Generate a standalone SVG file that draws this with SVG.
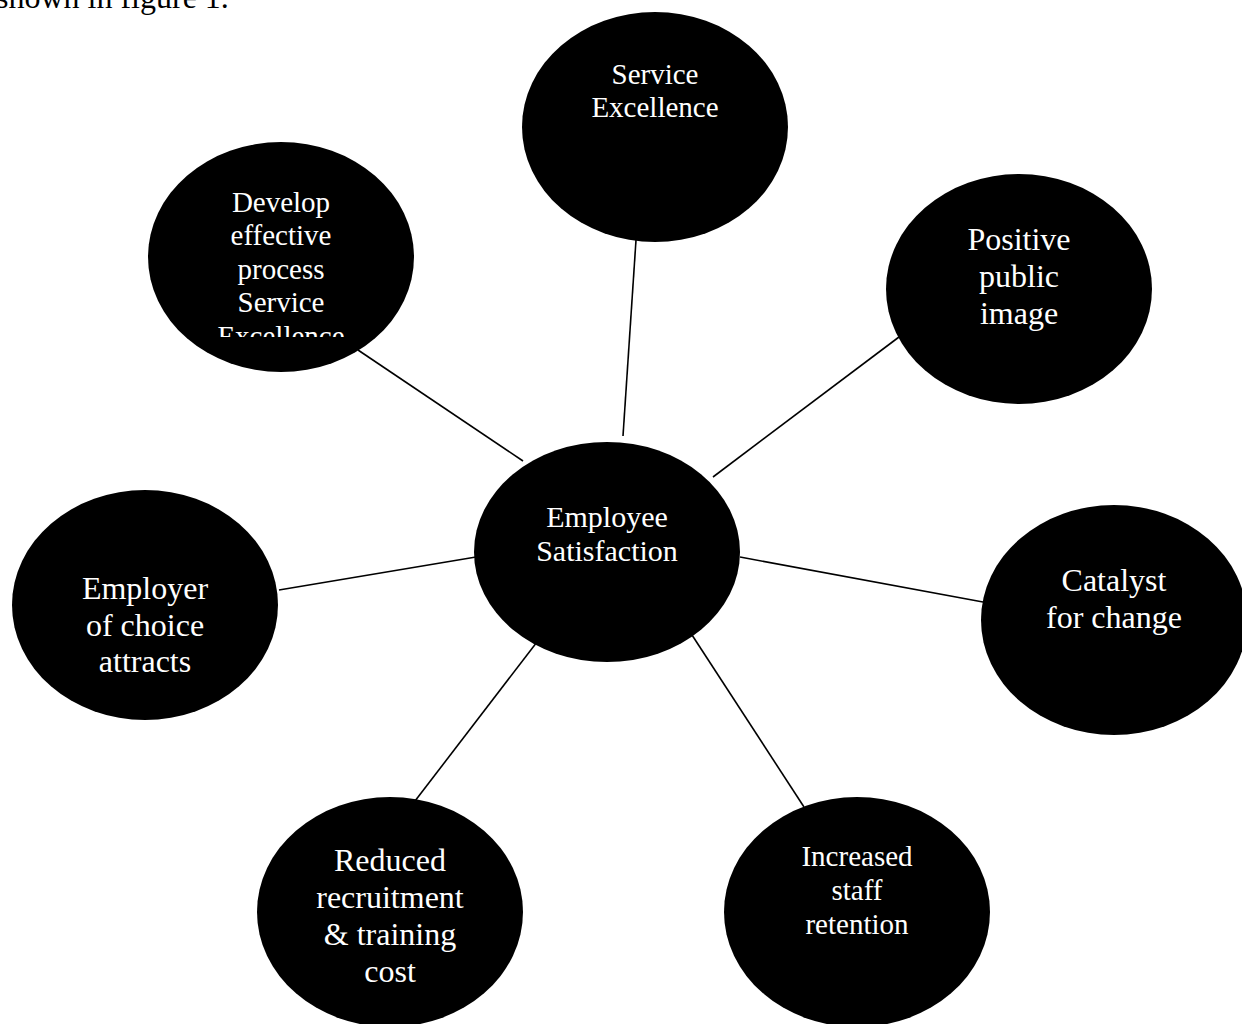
<svg xmlns="http://www.w3.org/2000/svg" width="1242" height="1024" viewBox="0 0 1242 1024">
<style>
.n{fill:#000}
.t{fill:#fff;font-family:"Liberation Serif","Times New Roman",serif;text-anchor:middle}
.c{stroke:#000;stroke-width:1.6;fill:none}
.cap{fill:#000;font-family:"Liberation Serif","Times New Roman",serif;font-size:32px}
</style>
<defs>
<clipPath id="clipDev"><rect x="140" y="140" width="290" height="197"/></clipPath>
</defs>
<rect width="1242" height="1024" fill="#fff"/>
<text class="cap" x="-4" y="8">shown in figure 1.</text>
<g id="connectors">
<line class="c" x1="636" y1="240" x2="623" y2="436"/>
<line class="c" x1="358" y1="350" x2="523" y2="461"/>
<line class="c" x1="899" y1="337" x2="713" y2="477"/>
<line class="c" x1="279" y1="590" x2="476" y2="557"/>
<line class="c" x1="740" y1="557" x2="983" y2="602"/>
<line class="c" x1="415" y1="801" x2="537" y2="642"/>
<line class="c" x1="804" y1="807" x2="692" y2="635"/>
</g>
<g id="service-excellence">
<ellipse class="n" cx="655" cy="127" rx="133" ry="115"/>
<text class="t" font-size="29"><tspan x="655" y="84">Service</tspan><tspan x="655" y="117">Excellence</tspan></text>
</g>
<g id="develop">
<ellipse class="n" cx="281" cy="257" rx="133" ry="115"/>
<text class="t" font-size="29" clip-path="url(#clipDev)"><tspan x="281" y="212">Develop</tspan><tspan x="281" y="245">effective</tspan><tspan x="281" y="279">process</tspan><tspan x="281" y="312">Service</tspan><tspan x="281" y="346">Excellence</tspan></text>
</g>
<g id="positive">
<ellipse class="n" cx="1019" cy="289" rx="133" ry="115"/>
<text class="t" font-size="32"><tspan x="1019" y="250">Positive</tspan><tspan x="1019" y="287">public</tspan><tspan x="1019" y="324">image</tspan></text>
</g>
<g id="employee-satisfaction">
<ellipse class="n" cx="607" cy="552" rx="133" ry="110"/>
<text class="t" font-size="30"><tspan x="607" y="527">Employee</tspan><tspan x="607" y="561">Satisfaction</tspan></text>
</g>
<g id="employer">
<ellipse class="n" cx="145" cy="605" rx="133" ry="115"/>
<text class="t" font-size="32"><tspan x="145" y="599">Employer</tspan><tspan x="145" y="636">of choice</tspan><tspan x="145" y="672">attracts</tspan></text>
</g>
<g id="catalyst">
<ellipse class="n" cx="1114" cy="620" rx="133" ry="115"/>
<text class="t" font-size="32"><tspan x="1114" y="591">Catalyst</tspan><tspan x="1114" y="628">for change</tspan></text>
</g>
<g id="reduced">
<ellipse class="n" cx="390" cy="912" rx="133" ry="115"/>
<text class="t" font-size="32"><tspan x="390" y="871">Reduced</tspan><tspan x="390" y="908">recruitment</tspan><tspan x="390" y="945">&amp; training</tspan><tspan x="390" y="982">cost</tspan></text>
</g>
<g id="increased">
<ellipse class="n" cx="857" cy="912" rx="133" ry="115"/>
<text class="t" font-size="29"><tspan x="857" y="866">Increased</tspan><tspan x="857" y="900">staff</tspan><tspan x="857" y="934">retention</tspan></text>
</g>
</svg>
